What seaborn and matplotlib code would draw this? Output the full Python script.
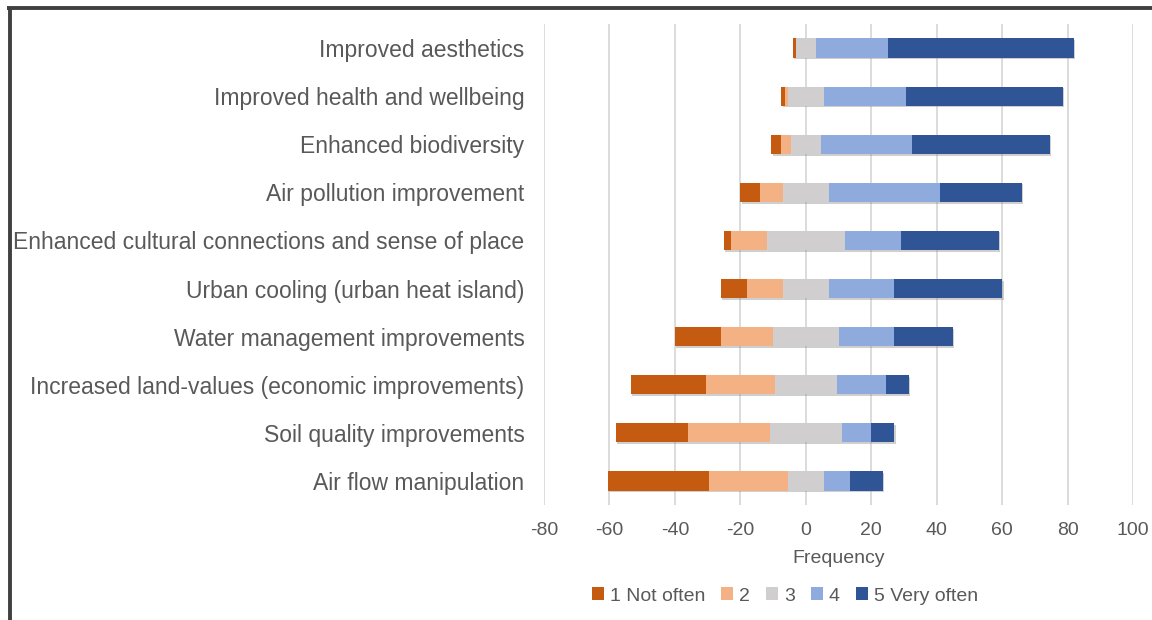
import matplotlib
matplotlib.use("Agg")
import matplotlib.pyplot as plt
import matplotlib.patheffects as pe
from matplotlib.lines import Line2D
from matplotlib.patches import Patch
import numpy as np
import pandas as pd
import seaborn as sns

categories = [
    "Improved aesthetics",
    "Improved health and wellbeing",
    "Enhanced biodiversity",
    "Air pollution improvement",
    "Enhanced cultural connections and sense of place",
    "Urban cooling (urban heat island)",
    "Water management improvements",
    "Increased land-values (economic improvements)",
    "Soil quality improvements",
    "Air flow manipulation",
]
levels = ["1 Not often", "2", "3", "4", "5 Very often"]
n1 = [1, 1, 3, 6, 2, 8, 14, 23, 22, 31]
n2 = [0, 1, 3, 7, 11, 11, 16, 21, 25, 24]
n3 = [6, 11, 9, 14, 24, 14, 20, 19, 22, 11]
n4 = [22, 25, 28, 34, 17, 20, 17, 15, 9, 8]
n5 = [57, 48, 42, 25, 30, 33, 18, 7, 7, 10]
x_ticks = [-80, -60, -40, -20, 0, 20, 40, 60, 80, 100]

colors = ["#C55A11", "#F4B183", "#D0CECE", "#8FAADC", "#2F5597"]

sns.set_theme(style="white")
plt.rcParams["font.family"] = ["Liberation Sans", "DejaVu Sans"]

c1, c2, c3, c4, c5 = (np.array(v, dtype=float) for v in (n1, n2, n3, n4, n5))
half = c3 / 2.0

# Cumulative extents for a diverging stack centred on the neutral answer
layers = [
    (-(half + c2 + c1), colors[0], True),
    (-(half + c2), colors[1], False),
    (-half, colors[2], False),
    (half + c4 + c5, colors[4], True),
    (half + c4, colors[3], False),
    (half, colors[2], False),
]

fig = plt.figure(figsize=(11.52, 6.2), dpi=100)
ax = fig.add_axes([544 / 1152, 1 - 505 / 620, (1133 - 544) / 1152, (505 - 24) / 620])

for vals, col, outer in layers:
    df = pd.DataFrame({"category": categories, "value": vals})
    n_before = len(ax.patches)
    sns.barplot(data=df, x="value", y="category", order=categories, orient="h",
                color=col, saturation=1, width=0.4, ax=ax, errorbar=None,
                linewidth=0, zorder=3)
    if outer:
        for p in ax.patches[n_before:]:
            p.set_path_effects([pe.SimplePatchShadow(offset=(1.0, -1.2), shadow_rgbFace="#888888", alpha=0.4),
                                pe.Normal()])

ax.set_xlim(-80, 100)
ax.set_ylim(9.5, -0.5)
ax.set_xticks(x_ticks)
ax.set_xticklabels([str(t) for t in x_ticks])
ax.xaxis.grid(True, color="#D9D9D9", linewidth=1.3, zorder=0)
ax.set_axisbelow(True)
for s in ax.spines.values():
    s.set_visible(False)
ax.tick_params(axis="x", length=0, pad=12, labelsize=14, labelcolor="#595959")
ax.tick_params(axis="y", length=0, pad=14, labelsize=16.5, labelcolor="#595959")
ax.set_ylabel("")
ax.set_xlabel("Frequency", fontsize=14, color="#595959", labelpad=8)

handles = [Patch(facecolor=c, edgecolor="none") for c in colors]
fig.legend(handles, levels, loc="center", bbox_to_anchor=(785 / 1152, 1 - 596 / 620),
           ncol=5, frameon=False, fontsize=14, labelcolor="#595959",
           handlelength=0.6, handleheight=0.6, handletextpad=0.3, columnspacing=0.85)

# Frame edges along the top and left of the figure
fig.add_artist(Line2D([7 / 1152, 1.0], [1 - 8 / 620, 1 - 8 / 620], transform=fig.transFigure,
                      color="#404040", linewidth=2.8, solid_capstyle="butt"))
fig.add_artist(Line2D([9.5 / 1152, 9.5 / 1152], [0.0, 1 - 6.5 / 620], transform=fig.transFigure,
                      color="#404040", linewidth=2.8, solid_capstyle="butt"))

fig.savefig("out.png", dpi=100)
